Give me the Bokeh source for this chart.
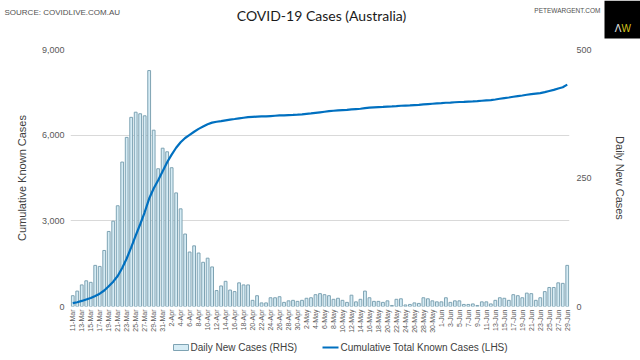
import math
from bokeh.plotting import figure
from bokeh.layouts import column, row
from bokeh.models import (Range1d, LinearAxis, FixedTicker, NumeralTickFormatter,
                          Label, ColumnDataSource, Plot)
from bokeh.embed import file_html
from bokeh.resources import INLINE

# ---------------- data ----------------
tick_labels = [
    "11-Mar", "13-Mar", "15-Mar", "17-Mar", "19-Mar", "21-Mar", "23-Mar", "25-Mar",
    "27-Mar", "29-Mar", "31-Mar",
    "2-Apr", "4-Apr", "6-Apr", "8-Apr", "10-Apr", "12-Apr", "14-Apr", "16-Apr",
    "18-Apr", "20-Apr", "22-Apr", "24-Apr", "26-Apr", "28-Apr", "30-Apr",
    "2-May", "4-May", "6-May", "8-May", "10-May", "12-May", "14-May", "16-May",
    "18-May", "20-May", "22-May", "24-May", "26-May", "28-May", "30-May",
    "1-Jun", "3-Jun", "5-Jun", "7-Jun", "9-Jun", "11-Jun", "13-Jun", "15-Jun",
    "17-Jun", "19-Jun", "21-Jun", "23-Jun", "25-Jun", "27-Jun", "29-Jun",
]

daily_new = [
    21, 30, 42, 50, 47, 80, 78, 109, 146, 166, 196,
    281, 329, 368, 378, 375, 371, 459, 343, 268, 308, 301,
    270, 221, 190, 141, 106, 118, 104, 86, 94, 77, 31,
    40, 49, 32, 29, 46, 42, 42, 12, 21, 7, 7,
    17, 17, 19, 8, 11, 12, 10, 12, 16, 17, 23,
    25, 23, 21, 14, 16, 12, 8, 22, 9, 14, 30,
    17, 10, 10, 8, 11, 2, 14, 15, 3, 4, 7,
    6, 17, 15, 11, 9, 9, 17, 8, 11, 11, 4,
    4, 5, 2, 9, 9, 5, 12, 17, 16, 12, 23,
    21, 17, 26, 25, 12, 17, 29, 37, 37, 46, 45,
    80,
]

cumulative = [
    120, 150, 195, 245, 295, 370, 450, 560, 710, 870, 1070,
    1350, 1680, 2070, 2480, 2880, 3300, 3780, 4130, 4420, 4740, 5050,
    5320, 5560, 5750, 5900, 6010, 6120, 6220, 6300, 6380, 6440, 6470,
    6490, 6520, 6545, 6565, 6590, 6610, 6630, 6640, 6650, 6655, 6660,
    6670, 6680, 6690, 6695, 6705, 6712, 6720, 6730, 6745, 6760, 6780,
    6800, 6820, 6840, 6855, 6870, 6880, 6888, 6905, 6915, 6925, 6950,
    6965, 6975, 6985, 6992, 7000, 7005, 7015, 7030, 7035, 7040, 7050,
    7060, 7075, 7090, 7100, 7110, 7120, 7135, 7142, 7152, 7162, 7168,
    7175, 7182, 7190, 7205, 7220, 7230, 7250, 7275, 7300, 7320, 7345,
    7370, 7390, 7415, 7440, 7455, 7470, 7505, 7545, 7585, 7635, 7680,
    7770,
]

left_ticks = [0, 3000, 6000, 9000]
right_ticks = [0, 250, 500]

days = list(range(len(daily_new)))
src = ColumnDataSource(dict(day=days, daily=daily_new, cum=cumulative))

TXT = "#404040"
FONT = "Liberation Sans"
BAR_FILL = "#d6ecf5"
BAR_LINE = "#7ea3b3"
LINE_COL = "#0070c0"
W = 640
HEAD_H = 40
FOOT_H = 20
MAIN_H = 360 - HEAD_H - FOOT_H

HAS_FRAME_ALIGN = "frame_align" in Plot.properties()
extra = dict(frame_align=False) if HAS_FRAME_ALIGN else {}


def blank_figure(h):
    f = figure(width=W, height=h, output_backend="svg", toolbar_location=None,
               x_range=Range1d(0, W), y_range=Range1d(h, 0),
               x_axis_location=None, y_axis_location=None,
               min_border=0, outline_line_color=None,
               background_fill_color="white", border_fill_color="white", **extra)
    f.xgrid.visible = False
    f.ygrid.visible = False
    return f


def lab(f, x, y, text, size, align="left", color=TXT, font=FONT):
    f.add_layout(Label(x=x, y=y, text=text, text_font=font, text_font_size=size,
                       text_color=color, text_baseline="middle", text_align=align))


# ---------------- header ----------------
head = blank_figure(HEAD_H)
lab(head, 4, 12, "SOURCE: COVIDLIVE.COM.AU", "8px", color="#505050")
lab(head, 321, 15, "COVID-19 Cases (Australia)", "14px", align="center",
    color="#1a1a1a", font="Lato")
lab(head, 600, 10, "PETEWARGENT.COM", "6.5px", align="right", color="#505050")
head.quad(left=604, right=640, top=0, bottom=38, fill_color="black", line_color=None)
lab(head, 621, 28, "Λ", "10px", align="right", color="#e6e6e6")
lab(head, 621, 28, "W", "10px", align="left", color="#d2c01c")

# ---------------- main chart ----------------
p = figure(width=W, height=MAIN_H, output_backend="svg", toolbar_location=None,
           x_range=Range1d(-0.5, len(days) - 0.5), y_range=Range1d(0, 9000),
           min_border_left=70, min_border_right=71, min_border_top=9,
           min_border_bottom=34, outline_line_color=None,
           background_fill_color="white", border_fill_color="white", **extra)
p.extra_y_ranges = {"daily": Range1d(0, 500)}

p.vbar(x="day", top="daily", width=0.62, source=src, y_range_name="daily",
       fill_color=BAR_FILL, line_color=BAR_LINE, line_width=1)
p.line(x="day", y="cum", source=src, line_color=LINE_COL, line_width=2.2)

p.xgrid.grid_line_color = None
p.ygrid.ticker = FixedTicker(ticks=left_ticks)
p.ygrid.grid_line_color = "#d9d9d9"
p.ygrid.grid_line_width = 1

xa = p.xaxis[0]
xa.ticker = FixedTicker(ticks=days[::2])
xa.major_label_overrides = {d: t for d, t in zip(days[::2], tick_labels)}
xa.major_label_orientation = math.pi / 2
xa.major_label_text_font_size = "7px"
xa.major_label_text_font = FONT
xa.major_label_text_color = "#595959"
xa.major_label_standoff = 3
xa.major_tick_out = 0
xa.major_tick_in = 0
xa.major_tick_line_color = None
xa.minor_tick_line_color = None
xa.axis_line_color = None

ya = p.yaxis[0]
ya.ticker = FixedTicker(ticks=left_ticks)
ya.formatter = NumeralTickFormatter(format="0,0")
ya.major_label_text_font_size = "9px"
ya.major_label_text_font = FONT
ya.major_label_text_color = "#595959"
ya.major_label_standoff = 6
ya.major_tick_out = 0
ya.major_tick_in = 0
ya.major_tick_line_color = None
ya.minor_tick_line_color = None
ya.axis_line_color = None
ya.axis_label = "Cumulative Known Cases"
ya.axis_label_text_font = FONT
ya.axis_label_text_font_size = "11px"
ya.axis_label_text_font_style = "normal"
ya.axis_label_text_color = TXT
ya.axis_label_standoff = 11

ra = LinearAxis(y_range_name="daily", ticker=FixedTicker(ticks=right_ticks))
ra.major_label_text_font_size = "9px"
ra.major_label_text_font = FONT
ra.major_label_text_color = "#595959"
ra.major_label_standoff = 7
ra.major_tick_out = 0
ra.major_tick_in = 0
ra.major_tick_line_color = None
ra.minor_tick_line_color = None
ra.axis_line_color = None
ra.axis_label = "Daily New Cases"
ra.axis_label_text_font = FONT
ra.axis_label_text_font_size = "11px"
ra.axis_label_text_font_style = "normal"
ra.axis_label_text_color = TXT
ra.axis_label_standoff = 19
p.add_layout(ra, "right")

# ---------------- footer legend ----------------
foot = blank_figure(FOOT_H)
foot.quad(left=173, right=188, top=4, bottom=10, fill_color=BAR_FILL,
          line_color=BAR_LINE, line_width=1)
lab(foot, 190, 7, "Daily New Cases (RHS)", "10px")
foot.segment(x0=322, y0=7, x1=338, y1=7, line_color=LINE_COL, line_width=2.2)
lab(foot, 340, 7, "Cumulative Total Known Cases (LHS)", "10px")

if HAS_FRAME_ALIGN:
    layout = column(head, p, foot, spacing=0)
else:
    layout = column(row(head), p, row(foot), spacing=0)
open("out.html", "w").write(file_html(layout, INLINE))
